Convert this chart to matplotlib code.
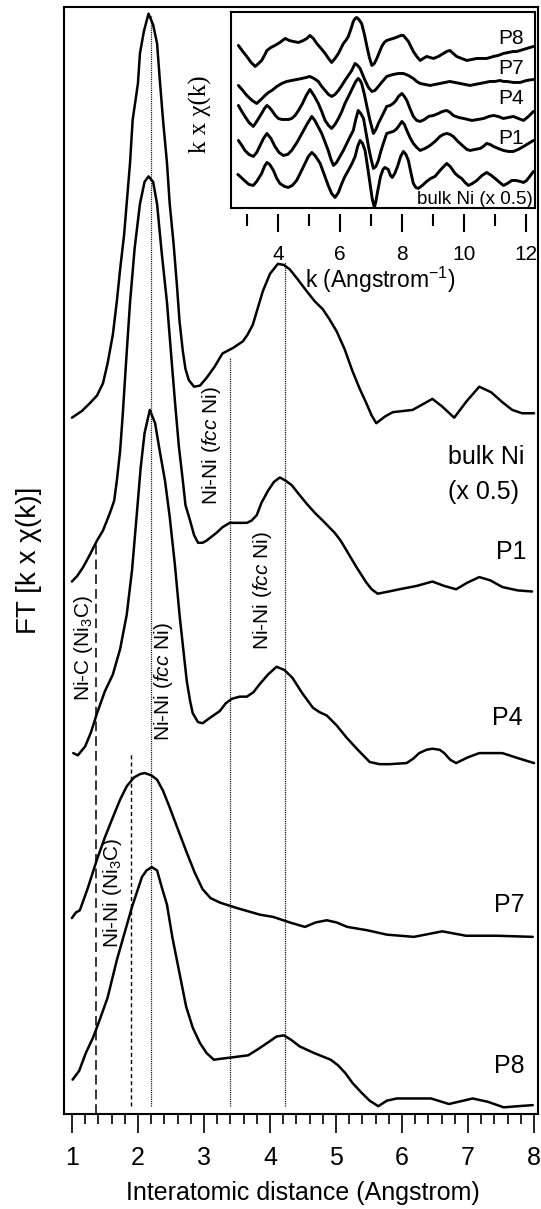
import numpy as np
import matplotlib.pyplot as plt
from matplotlib.ticker import MultipleLocator

plt.rcParams['font.family'] = ['Liberation Sans', 'DejaVu Sans']
plt.rcParams['mathtext.fontset'] = 'custom'
plt.rcParams['mathtext.rm'] = 'Liberation Sans'
plt.rcParams['mathtext.it'] = 'Liberation Sans:italic'
plt.rcParams['mathtext.default'] = 'regular'
plt.rcParams['lines.scale_dashes'] = False
plt.rcParams['lines.solid_joinstyle'] = 'round'
plt.rcParams['lines.solid_capstyle'] = 'round'

#### FT data (R in Angstrom, magnitude in arb. units above each baseline) ####
r_bulk = [1.00, 1.15, 1.27, 1.38, 1.47, 1.54, 1.62, 1.68, 1.73, 1.79, 1.83, 1.88, 1.92, 2.00,
          2.03, 2.09, 2.16, 2.23, 2.29, 2.33, 2.38, 2.44, 2.48, 2.54, 2.59, 2.63, 2.68, 2.72,
          2.77, 2.85, 2.94, 3.04, 3.16, 3.28, 3.44, 3.59, 3.66, 3.74, 3.81, 3.89, 4.00, 4.12,
          4.21, 4.30, 4.42, 4.56, 4.68, 4.80, 4.90, 5.01, 5.13, 5.25, 5.36, 5.46, 5.54, 5.61,
          5.74, 5.86, 6.01, 6.16, 6.31, 6.46, 6.61, 6.79, 6.98, 7.17, 7.35, 7.52, 7.67, 7.82,
          8.00]
ft_bulk = [0.3, 0.9, 1.6, 2.3, 3.4, 5.2, 7.8, 10.8, 13.7, 16.8, 19.7, 23.3, 27.2, 30.5,
           33.2, 35.2, 36.8, 35.8, 34.1, 30.9, 27.2, 23.3, 19.7, 16.0, 12.3, 9.0, 6.3, 4.7,
           3.7, 3.1, 3.2, 3.9, 4.9, 6.1, 6.6, 7.2, 7.8, 8.7, 10.1, 11.7, 13.3, 14.2,
           14.1, 13.7, 12.8, 11.7, 10.8, 10.1, 9.2, 8.1, 6.5, 4.5, 2.9, 1.6, 0.5, -0.2,
           0.4, 0.8, 0.9, 1.0, 1.5, 2.0, 1.3, 0.3, 1.8, 3.1, 2.6, 1.7, 1.0, 0.7,
           0.7]

r_p1 = [1.00, 1.08, 1.17, 1.27, 1.38, 1.47, 1.57, 1.64, 1.68, 1.73, 1.77, 1.82, 1.88, 1.95,
        2.03, 2.10, 2.16, 2.23, 2.29, 2.36, 2.44, 2.50, 2.56, 2.62, 2.68, 2.72, 2.79, 2.85,
        2.91, 2.98, 3.04, 3.19, 3.28, 3.39, 3.65, 3.72, 3.80, 3.87, 3.97, 4.06, 4.15, 4.24,
        4.33, 4.45, 4.56, 4.68, 4.80, 4.98, 5.07, 5.16, 5.31, 5.46, 5.54, 5.63, 5.80, 5.96,
        6.22, 6.46, 6.64, 6.82, 6.99, 7.17, 7.34, 7.52, 7.75, 7.97]
ft_p1 = [1.1, 1.6, 2.4, 3.5, 4.8, 5.7, 7.2, 8.4, 10.2, 12.9, 16.2, 20.9, 26.3, 31.2,
         35.2, 37.2, 37.7, 37.2, 35.2, 30.8, 26.3, 21.8, 17.4, 13.3, 10.2, 8.0, 6.6, 5.3,
         4.6, 4.6, 4.8, 5.5, 6.0, 6.4, 6.4, 6.6, 7.1, 8.2, 9.3, 10.1, 10.5, 10.2,
         9.8, 8.9, 8.1, 7.3, 6.6, 5.5, 4.8, 3.9, 2.4, 1.0, 0.4, 0.0, 0.2, 0.4,
         0.7, 1.1, 0.7, 0.4, 1.0, 1.5, 1.2, 0.6, 0.3, 0.2]

r_p4 = [1.02, 1.09, 1.20, 1.29, 1.38, 1.50, 1.62, 1.73, 1.83, 1.91, 1.98, 2.04, 2.10, 2.18,
        2.26, 2.33, 2.41, 2.48, 2.56, 2.63, 2.69, 2.74, 2.79, 2.83, 2.91, 2.98, 3.07, 3.24,
        3.33, 3.42, 3.54, 3.65, 3.75, 3.84, 3.97, 4.10, 4.22, 4.34, 4.49, 4.65, 4.75, 4.86,
        5.01, 5.16, 5.33, 5.51, 5.66, 5.81, 6.07, 6.17, 6.26, 6.37, 6.46, 6.57, 6.64, 6.73,
        6.82, 6.99, 7.17, 7.52, 7.78, 8.00]
ft_p4 = [1.0, 0.8, 1.6, 2.9, 4.6, 6.6, 8.1, 10.4, 13.5, 17.5, 22.4, 26.7, 29.9, 32.0,
         30.8, 28.3, 25.6, 22.4, 18.0, 13.5, 10.2, 7.5, 5.7, 4.6, 3.8, 3.7, 4.1, 4.8,
         5.5, 5.9, 6.1, 6.1, 6.5, 7.2, 8.1, 8.8, 8.5, 7.8, 6.4, 5.1, 4.7, 4.4,
         3.5, 2.4, 1.3, 0.2, 0.0, 0.0, 0.1, 0.5, 1.0, 1.3, 1.4, 1.3, 1.0, 0.4,
         0.1, 0.6, 1.0, 1.0, 0.5, 0.1]

r_p7 = [1.00, 1.06, 1.12, 1.24, 1.38, 1.50, 1.62, 1.73, 1.83, 1.94, 2.03, 2.10, 2.20, 2.29,
        2.38, 2.48, 2.60, 2.74, 2.86, 2.98, 3.10, 3.24, 3.50, 3.85, 4.05, 4.30, 4.53, 4.69,
        4.86, 5.01, 5.17, 5.47, 5.77, 6.18, 6.61, 6.97, 7.44, 7.98]
ft_p7 = [1.7, 2.2, 2.4, 4.4, 7.0, 9.0, 10.8, 12.4, 13.6, 14.4, 14.7, 14.8, 14.6, 14.2,
         13.2, 11.7, 9.8, 7.6, 5.8, 4.3, 3.5, 3.1, 2.6, 2.0, 1.8, 1.3, 0.9, 1.3,
         1.5, 1.3, 0.9, 0.6, 0.2, 0.0, 0.5, 0.1, 0.1, 0.0]

r_p8 = [1.01, 1.11, 1.21, 1.32, 1.42, 1.54, 1.68, 1.79, 1.91, 2.06, 2.13, 2.21, 2.29, 2.36,
        2.44, 2.52, 2.62, 2.73, 2.83, 2.94, 3.04, 3.15, 3.27, 3.41, 3.67, 3.83, 3.98, 4.10,
        4.21, 4.32, 4.45, 4.67, 4.92, 5.03, 5.14, 5.25, 5.39, 5.51, 5.64, 5.77, 5.92, 6.44,
        6.71, 7.07, 7.30, 7.54, 7.75, 7.98]
ft_p8 = [2.5, 3.3, 4.9, 6.3, 7.9, 9.9, 13.3, 15.6, 18.1, 20.8, 21.4, 21.7, 21.4, 19.9,
         18.3, 15.4, 12.4, 9.1, 7.2, 5.8, 4.9, 4.3, 4.4, 4.5, 4.7, 5.3, 5.9, 6.4,
         6.5, 6.1, 5.5, 4.9, 4.3, 3.8, 3.1, 2.2, 1.3, 0.6, 0.1, 0.6, 0.8, 0.8,
         0.3, 0.8, 0.5, 0.0, 0.1, 0.2]

#### EXAFS data for the inset (k in Angstrom^-1) ####
k_bulk = [2.69, 2.80, 2.90, 3.05, 3.19, 3.30, 3.46, 3.55, 3.63, 3.72, 3.84, 3.95, 4.05, 4.20,
          4.32, 4.45, 4.59, 4.72, 4.86, 4.97, 5.08, 5.18, 5.27, 5.35, 5.48, 5.61, 5.72, 5.83,
          5.94, 6.05, 6.15, 6.26, 6.38, 6.48, 6.56, 6.64, 6.72, 6.80, 6.88, 6.96, 7.03, 7.10,
          7.15, 7.20, 7.30, 7.38, 7.44, 7.55, 7.62, 7.68, 7.76, 7.85, 7.95, 8.04, 8.12, 8.20,
          8.28, 8.36, 8.44, 8.52, 8.65, 8.79, 8.92, 9.06, 9.25, 9.44, 9.55, 9.71, 9.82, 9.92,
          10.03, 10.14, 10.27, 10.41, 10.58, 10.73, 10.88, 11.00, 11.15, 11.27, 11.40, 11.54,
          11.68, 11.81, 11.92, 12.02, 12.12, 12.24]
chi_bulk = [7, 4, 1, -3, -4, 0, 8, 15, 19, 17, 11, 3, -2, -5,
            -6, -4, 1, 9, 18, 25, 29, 26, 22, 18, 7, -4, -12, -16,
            -11, -2, 5, 11, 18, 25, 35, 41, 38, 31, 15, -2, -17, -26,
            -20, -11, 5, 12, 14, 12, 6, 4, 8, 15, 25, 30, 27, 21,
            9, -2, -6, -7, -4, 0, 3, 5, 12, 18, 15, 8, 5, 3,
            -1, -4, -2, 1, 6, 9, 6, 3, -1, -4, -2, 1,
            1, 0, -1, 1, 5, 10]

k_p1 = [2.71, 2.82, 2.92, 3.05, 3.19, 3.30, 3.41, 3.52, 3.63, 3.76, 3.89, 4.02, 4.16, 4.30,
        4.43, 4.60, 4.76, 4.92, 5.08, 5.18, 5.28, 5.40, 5.50, 5.61, 5.70, 5.78, 5.88, 5.99,
        6.10, 6.21, 6.32, 6.42, 6.50, 6.58, 6.66, 6.75, 6.83, 6.91, 6.99, 7.07, 7.15, 7.23,
        7.31, 7.39, 7.50, 7.60, 7.71, 7.80, 7.88, 7.99, 8.07, 8.15, 8.25, 8.36, 8.47, 8.58,
        8.74, 8.90, 9.06, 9.22, 9.33, 9.44, 9.55, 9.65, 9.80, 9.98, 10.09, 10.19, 10.35,
        10.52, 10.62, 10.73, 10.84, 10.95, 11.10, 11.27, 11.43, 11.59, 11.75, 11.92, 12.08,
        12.24]
chi_p1 = [8, 3, -2, -6, -8, -4, 3, 10, 15, 10, 2, -4, -7, -6,
          -2, 6, 15, 24, 32, 28, 22, 15, 7, -2, -11, -17, -14, -8,
          -2, 5, 12, 18, 29, 38, 35, 30, 16, 2, -10, -20, -18, -12,
          -3, 5, 15, 16, 17, 19, 22, 27, 24, 18, 11, 5, 1, -2,
          0, 3, 7, 12, 14, 15, 14, 12, 7, 2, -1, -2, -1,
          0, 2, 5, 4, 2, 0, -2, -3, -3, -1, 2, 5,
          8]

k_p4 = [2.71, 2.82, 2.92, 3.05, 3.19, 3.32, 3.46, 3.55, 3.63, 3.71, 3.79, 3.90, 4.00, 4.11,
        4.22, 4.33, 4.43, 4.54, 4.65, 4.78, 4.90, 5.02, 5.15, 5.29, 5.40, 5.51, 5.62, 5.72,
        5.83, 5.94, 6.05, 6.15, 6.28, 6.42, 6.50, 6.58, 6.64, 6.69, 6.78, 6.86, 6.96, 7.07,
        7.15, 7.23, 7.31, 7.39, 7.50, 7.61, 7.71, 7.80, 7.88, 7.99, 8.07, 8.15, 8.25, 8.36,
        8.47, 8.58, 8.72, 8.85, 9.01, 9.17, 9.30, 9.44, 9.55, 9.65, 9.82, 9.98, 10.12, 10.25,
        10.45, 10.63, 10.80, 10.95, 11.10, 11.27, 11.43, 11.59, 11.75, 11.92, 12.08, 12.24]
chi_p4 = [11, 5, 0, -6, -10, -4, 3, 8, 11, 9, 6, 1, -2, -3,
          -3, -3, -2, 1, 6, 13, 21, 27, 21, 13, 5, -4, -9, -12,
          -8, -2, 5, 13, 21, 30, 35, 38, 36, 33, 22, 10, -4, -17,
          -13, -7, -2, 3, 10, 11, 13, 16, 20, 23, 20, 16, 8, 0,
          -4, -5, -3, 0, 1, 3, 5, 6, 4, 1, -1, -2, -3, -4,
          -3, -2, 0, 1, 0, -2, -1, 0, -2, -4, 0, 5]

k_p7 = [2.71, 2.85, 2.98, 3.15, 3.30, 3.44, 3.57, 3.68, 3.79, 3.95, 4.11, 4.27, 4.43, 4.60,
        4.76, 4.90, 5.02, 5.15, 5.29, 5.40, 5.51, 5.62, 5.72, 5.83, 5.94, 6.05, 6.15, 6.26,
        6.37, 6.43, 6.48, 6.56, 6.64, 6.72, 6.80, 6.91, 7.02, 7.12, 7.23, 7.36, 7.50, 7.60,
        7.71, 7.88, 8.04, 8.20, 8.36, 8.47, 8.58, 8.74, 8.90, 9.06, 9.22, 9.38, 9.54, 9.70,
        9.87, 10.03, 10.19, 10.35, 10.52, 10.68, 10.84, 11.00, 11.16, 11.27, 11.38, 11.60,
        11.81, 12.02, 12.24]
chi_p7 = [-3, -8, -13, -18, -21, -17, -13, -10, -8, -4, -1, 1, 2, 3,
          4, 5, 6, 4, 1, -4, -8, -12, -14, -12, -8, -3, 2, 7,
          12, 16, 19, 17, 14, 8, 2, -5, -9, -8, -4, 1, 6, 7,
          8, 9, 9, 7, 4, 1, -1, -2, -3, -2, -1, 0, 1, 0,
          -1, -2, -3, -2, -1, 0, 1, 1, 2, 1, 1, 0,
          0, 2, 3]

k_p8 = [2.71, 2.85, 2.98, 3.12, 3.25, 3.36, 3.46, 3.55, 3.63, 3.76, 3.89, 4.05, 4.22, 4.35,
        4.48, 4.65, 4.81, 4.92, 5.02, 5.13, 5.24, 5.38, 5.51, 5.62, 5.72, 5.83, 5.94, 6.02,
        6.10, 6.18, 6.26, 6.34, 6.42, 6.48, 6.53, 6.60, 6.69, 6.78, 6.86, 6.94, 7.02, 7.10,
        7.18, 7.26, 7.34, 7.42, 7.50, 7.60, 7.71, 7.80, 7.88, 7.96, 8.04, 8.12, 8.20, 8.28,
        8.36, 8.47, 8.58, 8.68, 8.79, 8.90, 9.01, 9.17, 9.33, 9.44, 9.54, 9.65, 9.76, 9.92,
        10.09, 10.25, 10.41, 10.57, 10.73, 10.84, 10.95, 11.10, 11.27, 11.43, 11.59, 11.70,
        11.81, 11.92, 12.02, 12.13, 12.24]
chi_p8 = [6, 0, -5, -11, -15, -12, -9, -4, 1, 4, 6, 9, 13, 11,
          10, 9, 11, 13, 16, 13, 8, 3, -2, -7, -11, -7, -2, 3,
          8, 11, 15, 22, 30, 33, 34, 32, 28, 17, 5, -6, -14, -12,
          -7, -1, 5, 9, 11, 12, 13, 14, 15, 16, 16, 13, 10, 5,
          0, -5, -9, -7, -5, -6, -7, -5, -2, 0, 1, -2, -5, -7,
          -9, -8, -7, -7, -7, -6, -5, -4, -2, -1, 0, 0,
          1, 2, 3, 4, 5]

samples = ['bulk Ni', 'P1', 'P4', 'P7', 'P8']

# reference distances (Angstrom) and the height the marker lines reach
ref_r = [1.37, 1.89, 2.20, 3.40, 4.23]
ref_top = [51.8, 32.7, 99.3, 68.3, 77.0]

fig = plt.figure(figsize=(5.41, 12.09), dpi=100)
ax = fig.add_axes([0.1183, 0.0786, 0.8762, 0.9156])

### main FT curves, stacked ###
ft_curves = [(r_bulk, ft_bulk), (r_p1, ft_p1), (r_p4, ft_p4), (r_p7, ft_p7), (r_p8, ft_p8)]
ft_offset = [62.6, 47.0, 31.6, 16.0, 0.6]
for (r, ft), off in zip(ft_curves, ft_offset):
    ax.plot(r, np.array(ft) + off, color='k', lw=1.8)

### marker lines ###
ax.plot([ref_r[0]] * 2, [0, ref_top[0]], color='k', lw=1.1, dashes=(7, 3.6))
ax.plot([ref_r[1]] * 2, [0.7, ref_top[1]], color='k', lw=1.0, dashes=(2.9, 2.2))
for x, top in zip(ref_r[2:], ref_top[2:]):
    ax.plot([x, x], [0.7, top], color='k', lw=0.9, dashes=(0.8, 0.8))

### bond labels ###
fcc = r'Ni-Ni ($\mathit{fcc}$ Ni)'
ax.text(3.12, 60.4, fcc, rotation=90, ha='center', va='center', fontsize=15)
ax.text(3.89, 47.3, fcc, rotation=90, ha='center', va='center', fontsize=15)
ax.text(2.38, 39.1, fcc, rotation=90, ha='center', va='center', fontsize=15)
ax.text(1.17, 42.1, r'Ni-C (Ni$_3$C)', rotation=90, ha='center', va='center', fontsize=15)
ax.text(1.62, 20.0, r'Ni-Ni (Ni$_3$C)', rotation=90, ha='center', va='center', fontsize=15)

### sample labels ###
ax.text(6.70, 59.35, 'bulk Ni', ha='left', va='center', fontsize=18)
ax.text(6.70, 56.2, '(x 0.5)', ha='left', va='center', fontsize=18)
for name, x, y in zip(samples[1:], [7.89, 7.82, 7.86, 7.86], [50.8, 35.8, 18.9, 4.3]):
    ax.text(x, y, name, ha='right', va='center', fontsize=18)

ax.set_xlim(0.88, 8.06)
ax.set_ylim(0, 100)
ax.set_yticks([])
ax.set_xticks(range(1, 9))
ax.xaxis.set_minor_locator(MultipleLocator(0.2))
ax.tick_params(axis='x', which='major', length=14, width=1.2, direction='out',
               pad=9, labelsize=18)
ax.tick_params(axis='x', which='minor', length=7, width=1.2, direction='out')
for sp in ax.spines.values():
    sp.set_linewidth(1.5)
ax.set_xlabel('Interatomic distance (Angstrom)', fontsize=18)
ax.xaxis.set_label_coords(0.504, -0.0605)
ax.set_ylabel(u'FT [k x \u03c7(k)]', fontsize=20)
ax.yaxis.set_label_coords(-0.046, 0.5)

### inset: k-weighted EXAFS ###
ins = fig.add_axes([0.427, 0.828, 0.5619, 0.1621])
chi_curves = [(k_bulk, chi_bulk), (k_p1, chi_p1), (k_p4, chi_p4), (k_p7, chi_p7), (k_p8, chi_p8)]
chi_offset = [25, 58, 90, 124, 155]
for (k, chi), off in zip(chi_curves, chi_offset):
    ins.plot(k, np.array(chi) + off, color='k', lw=2.1)

ins.text(12.23, 6.5, 'bulk Ni (x 0.5)', ha='right', va='center', fontsize=13.5)
for name, y in zip(samples[1:], [68, 107.5, 138, 168]):
    ins.text(11.94, y, name, ha='right', va='center', fontsize=15)

ins.set_xlim(2.47, 12.29)
ins.set_ylim(-1.5, 194.5)
ins.set_yticks([])
ins.set_xticks([4, 6, 8, 10, 12])
ins.set_xticks([3, 5, 7, 9, 11], minor=True)
ins.tick_params(axis='x', which='major', length=13, width=1.5, direction='out',
                pad=9, labelsize=15)
ins.tick_params(axis='x', which='minor', length=8.6, width=1.5, direction='out')
for sp in ins.spines.values():
    sp.set_linewidth(1.5)
ins.spines['bottom'].set_position(('outward', 4.5))
ins.spines['bottom'].set_visible(False)
ins.plot([0, 1], [0, 0], transform=ins.transAxes, color='k', lw=1.5, clip_on=False)
ins.set_xlabel('k (Angstrom$^{-1}$)', fontsize=16.5)
ins.xaxis.set_label_coords(0.49, -0.29)
ins.set_ylabel(u'k x \u03c7(k)', fontsize=18, family=['Liberation Serif', 'DejaVu Serif'])
ins.yaxis.set_label_coords(-0.0625, 0.48)

fig.savefig('out.png', dpi=100)
